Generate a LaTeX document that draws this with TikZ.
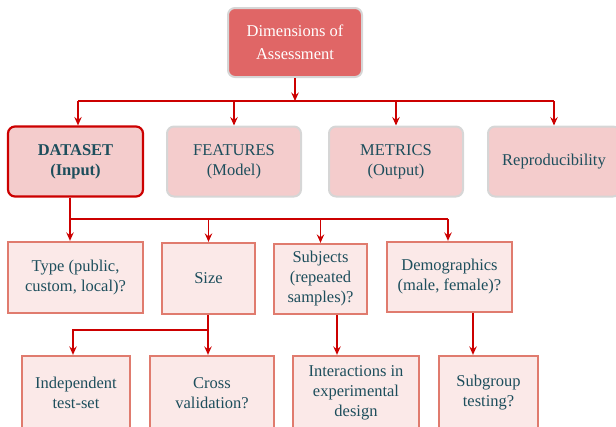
\documentclass[tikz,border=0pt]{standalone}
\usepackage{fontspec}
\setmainfont{Liberation Serif}
\usetikzlibrary{arrows.meta}
\definecolor{tealtext}{HTML}{1D4E5C}
\definecolor{headfill}{HTML}{E06666}
\definecolor{midfill}{HTML}{F4CCCC}
\definecolor{lowfill}{HTML}{FBE9E8}
\definecolor{lowline}{HTML}{E07B6E}
\definecolor{greyline}{HTML}{D6D6D6}
\definecolor{arrred}{HTML}{CC0000}
\tikzset{
  base/.style={align=center, inner sep=2pt, font=\fontsize{16.5}{20}\selectfont, text=tealtext},
  headbox/.style={base, rounded corners=7pt, fill=headfill, draw=greyline, line width=2pt, text=white, font=\fontsize{16.5}{23}\selectfont},
  midbox/.style={base, rounded corners=7pt, fill=midfill, draw=greyline, line width=2pt},
  keybox/.style={midbox, draw=arrred, line width=2.2pt},
  lowbox/.style={base, fill=lowfill, draw=lowline, line width=2.3pt},
  link/.style={draw=arrred, line width=1.4pt},
  arr/.style={link, -{Stealth[length=8.5pt, width=7.5pt, inset=3pt]}}
}
\begin{document}
\begin{tikzpicture}[x=1pt, y=-1pt]
\useasboundingbox (0,0) rectangle (616,426);

% top level
\node[headbox, minimum width=134pt, minimum height=69pt] (top) at (295,42.5) {Dimensions of\\Assessment};

% second level
\node[keybox, minimum width=135pt, minimum height=70pt] (ds) at (75.5,161.5) {\textbf{DATASET}\\\textbf{(Input)}};
\node[midbox, minimum width=134pt, minimum height=70pt] (feat) at (234,161.5) {FEATURES\\(Model)};
\node[midbox, minimum width=134pt, minimum height=70pt] (met) at (396,161.5) {METRICS\\(Output)};
\node[midbox, minimum width=132pt, minimum height=70pt] (rep) at (554,161.5) {Reproducibility};

% third level
\node[lowbox, minimum width=135pt, minimum height=71pt] (type) at (75.5,277.5) {Type (public,\\custom, local)?};
\node[lowbox, minimum width=93pt, minimum height=71pt] (size) at (208.5,278.5) {Size};
\node[lowbox, minimum width=93pt, minimum height=70pt] (subj) at (320.5,279) {Subjects\\(repeated\\samples)?};
\node[lowbox, minimum width=125pt, minimum height=70pt] (demo) at (449.5,277) {Demographics\\(male, female)?};

% fourth level
\node[lowbox, minimum width=108pt, minimum height=74pt] (indep) at (76,393) {Independent\\test-set};
\node[lowbox, minimum width=124pt, minimum height=74pt] (cross) at (212,393) {Cross\\validation?};
\node[lowbox, minimum width=126pt, minimum height=74pt] (inter) at (356,393) {Interactions in\\experimental\\design};
\node[lowbox, minimum width=99pt, minimum height=74pt] (subg) at (488.5,393) {Subgroup\\testing?};

% bus below the top box
\coordinate (j1) at (295,101);
\coordinate (j1l) at (78,101);
\coordinate (j1r) at (554,101);
\draw[arr] (top.south) -- (j1);
\draw[link] (j1l) -- (j1r);
\draw[arr] (j1l) -- (j1l |- ds.north);
\draw[arr] (j1 -| feat.north) -- (feat.north);
\draw[arr] (j1 -| met.north) -- (met.north);
\draw[arr] (j1r) -- (j1r |- rep.north);

% bus below DATASET
\coordinate (j2l) at (70,219);
\coordinate (j2r) at (448,219);
\draw[link] (j2l |- ds.south) -- (j2l) -- (j2r);
\draw[arr] (j2l) -- (j2l |- type.north);
\draw[arr] (j2l -| size.north) -- (size.north);
\draw[arr] (j2l -| subj.north) -- (subj.north);
\draw[arr] (j2r) -- (j2r |- demo.north);

% Size branches
\coordinate (j3) at (208,330);
\coordinate (j3l) at (73,330);
\draw[link] (j3 |- size.south) -- (j3);
\draw[arr] (j3) -- (j3 |- cross.north);
\draw[arr] (j3) -- (j3l) -- (j3l |- indep.north);

% single links
\coordinate (c4) at (337,0);
\coordinate (c5) at (473,0);
\draw[arr] (c4 |- subj.south) -- (c4 |- inter.north);
\draw[arr] (c5 |- demo.south) -- (c5 |- subg.north);
\end{tikzpicture}
\end{document}
